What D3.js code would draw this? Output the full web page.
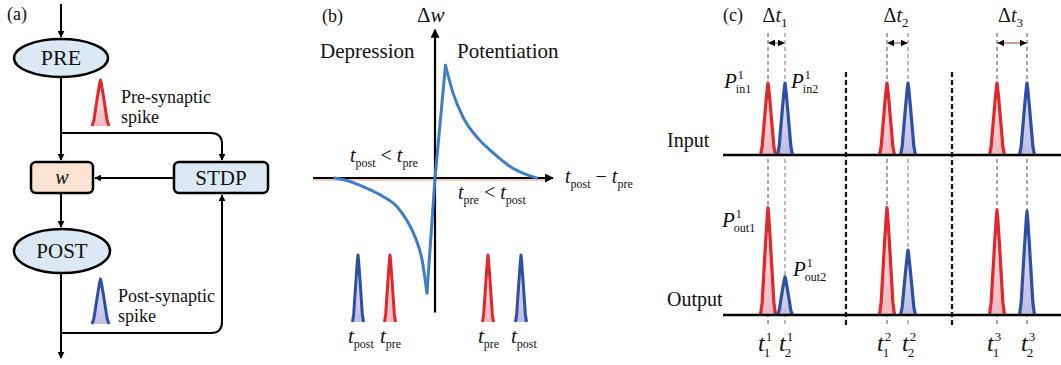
<!DOCTYPE html>
<html>
<head>
<meta charset="utf-8">
<script src="https://cdn.jsdelivr.net/npm/d3@7"></script>
<style>
  body { margin: 0; background: #fff; }
  text { font-family: "Liberation Serif", "Times New Roman", serif; fill: #111; }
</style>
</head>
<body>
<svg id="fig" width="1061" height="365"></svg>
<script>
// ---- data ----
// (b) STDP window
var stdpDt = [-100, -85, -68, -52, -38, -28, -20, -13, -8, 0, 10.5, 18, 28, 41.5, 58, 75, 91.5, 101.5];
var stdpDw = [0, -0.03, -0.09, -0.16, -0.25, -0.37, -0.51, -0.71, -1.0, 0, 0.98, 0.74, 0.53, 0.36, 0.22, 0.10, 0.03, 0];
// (b) example spike pairs under the curve
var pairTimes = [-77, -45, 53, 86];
var pairKind = ["post", "pre", "pre", "post"];

// (c) spike trains
var groupIds = ["1", "2", "3"];
var preTimes = [45, 164, 274];
var postTimes = [62, 185, 304];
var sepTimes = [123, 229];
var inPreAmp = [1, 1, 1];
var inPostAmp = [1, 1, 1];
var outPreAmp = [1.49, 1.49, 1.46];
var outPostAmp = [0.53, 0.9, 1.44];

// spike shape profile (relative offset, relative height)
var profileX = [-1, -0.78, -0.55, -0.3, -0.1, 0, 0.1, 0.3, 0.55, 0.78, 1];
var profileY = [0, 0.12, 0.4, 0.7, 0.92, 1, 0.92, 0.7, 0.4, 0.12, 0];

var colors = { pre: "#e1262c", post: "#2d4fa6", curve: "#3f7dc8" };

var svg = d3.select("#fig");
var defs = svg.append("defs");

function grad(id, top, bottom) {
  var g = defs.append("linearGradient").attr("id", id)
    .attr("x1", 0).attr("y1", 0).attr("x2", 0).attr("y2", 1);
  g.append("stop").attr("offset", "0%").attr("stop-color", top);
  g.append("stop").attr("offset", "100%").attr("stop-color", bottom);
}
grad("gpre", "#fdeef0", "#f1b9c1");
grad("gpost", "#eceaf6", "#bfbce2");

function marker(id, color, size) {
  defs.append("marker").attr("id", id)
    .attr("viewBox", "0 0 10 10").attr("refX", 9).attr("refY", 5)
    .attr("markerUnits", "userSpaceOnUse")
    .attr("markerWidth", size).attr("markerHeight", size)
    .attr("orient", "auto-start-reverse")
    .append("path").attr("d", "M0,0 L10,5 L0,10 z").attr("fill", color);
}
marker("arr", "#000", 9);
marker("arrS", "#000", 7);

function spike(g, cx, base, halfW, h, kind, sw) {
  var line = d3.line()
    .x(function(d, i) { return cx + profileX[i] * halfW; })
    .y(function(d, i) { return base - profileY[i] * h; });
  g.append("path")
    .attr("d", line(profileX))
    .attr("fill", kind === "pre" ? "url(#gpre)" : "url(#gpost)")
    .attr("stroke", colors[kind])
    .attr("stroke-width", sw)
    .attr("stroke-linejoin", "round");
}

// italic base with stacked sup/sub
function stacked(g, x, y, base, sup, sub, size, subSize) {
  var b = g.append("text").attr("x", x).attr("y", y)
    .attr("font-size", size).attr("font-style", "italic").text(base);
  var w = b.node().getComputedTextLength();
  if (sup) g.append("text").attr("x", x + w + 1).attr("y", y - size * 0.42)
    .attr("font-size", subSize).text(sup);
  if (sub) g.append("text").attr("x", x + w - 1).attr("y", y + size * 0.25)
    .attr("font-size", subSize).text(sub);
}

// inline tspans: [text, "i" | "sub" | "n"]
function inline(g, x, y, parts, size, subSize) {
  var t = g.append("text").attr("x", x).attr("y", y).attr("font-size", size);
  var shift = 0;
  parts.forEach(function(p) {
    var s = t.append("tspan").text(p[0]);
    var dy;
    if (p[1] === "sub") { s.attr("font-size", subSize); dy = 5 - shift; shift = 5; }
    else { dy = -shift; shift = 0; }
    if (dy) s.attr("dy", dy);
    if (p[1] === "i") s.attr("font-style", "italic");
  });
  return t;
}

// ================= (a) flow diagram =================
var ga = svg.append("g");
ga.append("text").attr("x", 7).attr("y", 20).attr("font-size", 18).text("(a)");

var nodes = [
  { id: "PRE", shape: "ellipse", fill: "#dce9f5", italic: false },
  { id: "w", shape: "rect", fill: "#fbe3d2", italic: true },
  { id: "STDP", shape: "rect", fill: "#dce9f5", italic: false },
  { id: "POST", shape: "ellipse", fill: "#dce9f5", italic: false }
];
var layout = {
  PRE: { cx: 61, cy: 58, w: 94, h: 38, fs: 22 },
  w: { cx: 62, cy: 177.5, w: 62, h: 31, fs: 20 },
  STDP: { cx: 221, cy: 177.5, w: 94, h: 31, fs: 21 },
  POST: { cx: 62, cy: 251, w: 96, h: 44, fs: 21 }
};

// connectors
var edges = [
  "M61,4 V37",
  "M61,77 V160",
  "M61,193 V227",
  "M61,273 V358",
  "M174,178 H95",
  "M61,133 H211 Q222,133 222,144 V160",
  "M61,333 H211 Q222,333 222,322 V195"
];
ga.selectAll("path.edge").data(edges).enter().append("path")
  .attr("class", "edge").attr("d", function(d) { return d; })
  .attr("fill", "none").attr("stroke", "#000").attr("stroke-width", 2)
  .attr("marker-end", "url(#arrS)");

nodes.forEach(function(n) {
  var L = layout[n.id];
  if (n.shape === "ellipse") {
    ga.append("ellipse").attr("cx", L.cx).attr("cy", L.cy).attr("rx", L.w / 2).attr("ry", L.h / 2)
      .attr("fill", n.fill).attr("stroke", "#000").attr("stroke-width", 2.5);
  } else {
    ga.append("rect").attr("x", L.cx - L.w / 2).attr("y", L.cy - L.h / 2)
      .attr("width", L.w).attr("height", L.h).attr("rx", 5)
      .attr("fill", n.fill).attr("stroke", "#000").attr("stroke-width", 2.5);
  }
  ga.append("text").attr("x", L.cx).attr("y", L.cy + L.fs * 0.34)
    .attr("text-anchor", "middle").attr("font-size", L.fs)
    .attr("font-style", n.italic ? "italic" : null).text(n.id);
});

spike(ga, 100.5, 126, 8.5, 46, "pre", 3);
spike(ga, 100.5, 324, 8.5, 45, "post", 3);
ga.append("text").attr("x", 121).attr("y", 103).attr("font-size", 18).text("Pre-synaptic");
ga.append("text").attr("x", 121).attr("y", 123).attr("font-size", 18).text("spike");
ga.append("text").attr("x", 118).attr("y", 302).attr("font-size", 18).text("Post-synaptic");
ga.append("text").attr("x", 118).attr("y", 322).attr("font-size", 18).text("spike");

// ================= (b) STDP curve =================
var gb = svg.append("g");
var xB = d3.scaleLinear().domain([-100, 100]).range([335, 535]);
var yB = d3.scaleLinear().domain([-1, 1]).range([293, 63]);

gb.append("text").attr("x", 322).attr("y", 22).attr("font-size", 18).text("(b)");

// faint tint under the horizontal axis
gb.append("line").attr("x1", xB(-122)).attr("x2", xB(112)).attr("y1", yB(0) + 2).attr("y2", yB(0) + 2)
  .attr("stroke", "#f6cfb3").attr("stroke-width", 2);
gb.append("line").attr("x1", xB(-122)).attr("x2", xB(118)).attr("y1", yB(0)).attr("y2", yB(0))
  .attr("stroke", "#000").attr("stroke-width", 2.2).attr("marker-end", "url(#arr)");
gb.append("line").attr("x1", xB(0)).attr("x2", xB(0)).attr("y1", yB(-1.17)).attr("y2", yB(1.29))
  .attr("stroke", "#000").attr("stroke-width", 2.2).attr("marker-end", "url(#arr)");

// draw in three parts so the kinks stay sharp
var segs = [[0, 8], [8, 10], [10, 17]];
segs.forEach(function(s, k) {
  var idx = d3.range(s[0], s[1] + 1);
  var ln = d3.line()
    .x(function(i) { return xB(stdpDt[i]); })
    .y(function(i) { return yB(stdpDw[i]); })
    .curve(k === 1 ? d3.curveLinear : d3.curveMonotoneX);
  gb.append("path").attr("d", ln(idx)).attr("fill", "none")
    .attr("stroke", colors.curve).attr("stroke-width", 3).attr("stroke-linecap", "round").attr("stroke-linejoin", "round");
});

gb.append("text").attr("x", 320).attr("y", 58).attr("font-size", 21).text("Depression");
gb.append("text").attr("x", 457).attr("y", 58).attr("font-size", 21).text("Potentiation");
inline(gb, 417, 22, [["\u0394", "n"], ["w", "i"]], 21, 12);
inline(gb, 350, 162, [["t", "i"], ["post", "sub"], [" < ", "n"], ["t", "i"], ["pre", "sub"]], 20, 12);
inline(gb, 458, 199, [["t", "i"], ["pre", "sub"], [" < ", "n"], ["t", "i"], ["post", "sub"]], 20, 12);
inline(gb, 565, 183, [["t", "i"], ["post", "sub"], [" \u2212 ", "n"], ["t", "i"], ["pre", "sub"]], 20, 12);

var ySp = d3.scaleLinear().domain([0, 1]).range([0, 67]);
pairTimes.forEach(function(t, i) {
  spike(gb, xB(t), 322, 5.5, ySp(1), pairKind[i], 3);
  inline(gb, xB(t) - 10, 343, [["t", "i"], [pairKind[i], "sub"]], 21, 12);
});

// ================= (c) spike trains =================
var gc = svg.append("g");
var xC = d3.scaleLinear().domain([0, 338]).range([723, 1061]);
var yAmp = d3.scaleLinear().domain([0, 1]).range([0, 72]);
var rows = [
  { name: "Input", base: 155, pre: inPreAmp, post: inPostAmp },
  { name: "Output", base: 315, pre: outPreAmp, post: outPostAmp }
];

gc.append("text").attr("x", 723).attr("y", 21).attr("font-size", 18).text("(c)");

// guide lines through each spike time
groupIds.forEach(function(gid, i) {
  [preTimes[i], postTimes[i]].forEach(function(t, j) {
    gc.append("line").attr("x1", xC(t)).attr("x2", xC(t)).attr("y1", 33).attr("y2", 325)
      .attr("stroke", (j === 1 && i < 2) ? "#9c5a45" : "#3a3a3a")
      .attr("stroke-width", 0.9).attr("stroke-dasharray", "4,3");
  });
  // delta-t double arrow
  gc.append("line").attr("x1", xC(preTimes[i]) + 1).attr("x2", xC(postTimes[i]) - 1)
    .attr("y1", 43).attr("y2", 43)
    .attr("stroke", "#c0604a").attr("stroke-width", 1.3)
    .attr("marker-start", "url(#arrS)").attr("marker-end", "url(#arrS)");
  var lx = (xC(preTimes[i]) + xC(postTimes[i])) / 2 - 14;
  inline(gc, lx, 22, [["\u0394", "n"], ["t", "i"], [gid, "sub"]], 20, 13);
});

// separators
sepTimes.forEach(function(t) {
  gc.append("line").attr("x1", xC(t)).attr("x2", xC(t)).attr("y1", 72).attr("y2", 326)
    .attr("stroke", "#111").attr("stroke-width", 2.2).attr("stroke-dasharray", "5,3");
});

rows.forEach(function(r) {
  groupIds.forEach(function(gid, i) {
    spike(gc, xC(preTimes[i]), r.base, 7.5, yAmp(r.pre[i]), "pre", 3.2);
    spike(gc, xC(postTimes[i]), r.base, 7.5, yAmp(r.post[i]), "post", 3.2);
  });
  gc.append("line").attr("x1", xC(0)).attr("x2", xC(338)).attr("y1", r.base).attr("y2", r.base)
    .attr("stroke", "#000").attr("stroke-width", 2.4);
});

gc.append("text").attr("x", 667).attr("y", 147).attr("font-size", 20).text("Input");
gc.append("text").attr("x", 667).attr("y", 306).attr("font-size", 20).text("Output");

stacked(gc, 724, 88, "P", "1", "in1", 21, 12);
stacked(gc, 791, 88, "P", "1", "in2", 21, 12);
stacked(gc, 722, 227, "P", "1", "out1", 21, 12);
stacked(gc, 793, 276, "P", "1", "out2", 21, 12);

groupIds.forEach(function(gid, i) {
  stacked(gc, xC(preTimes[i]) - 10, 351, "t", gid, "1", 24, 13);
  stacked(gc, xC(postTimes[i]) - 6, 351, "t", gid, "2", 24, 13);
});
</script>
</body>
</html>
